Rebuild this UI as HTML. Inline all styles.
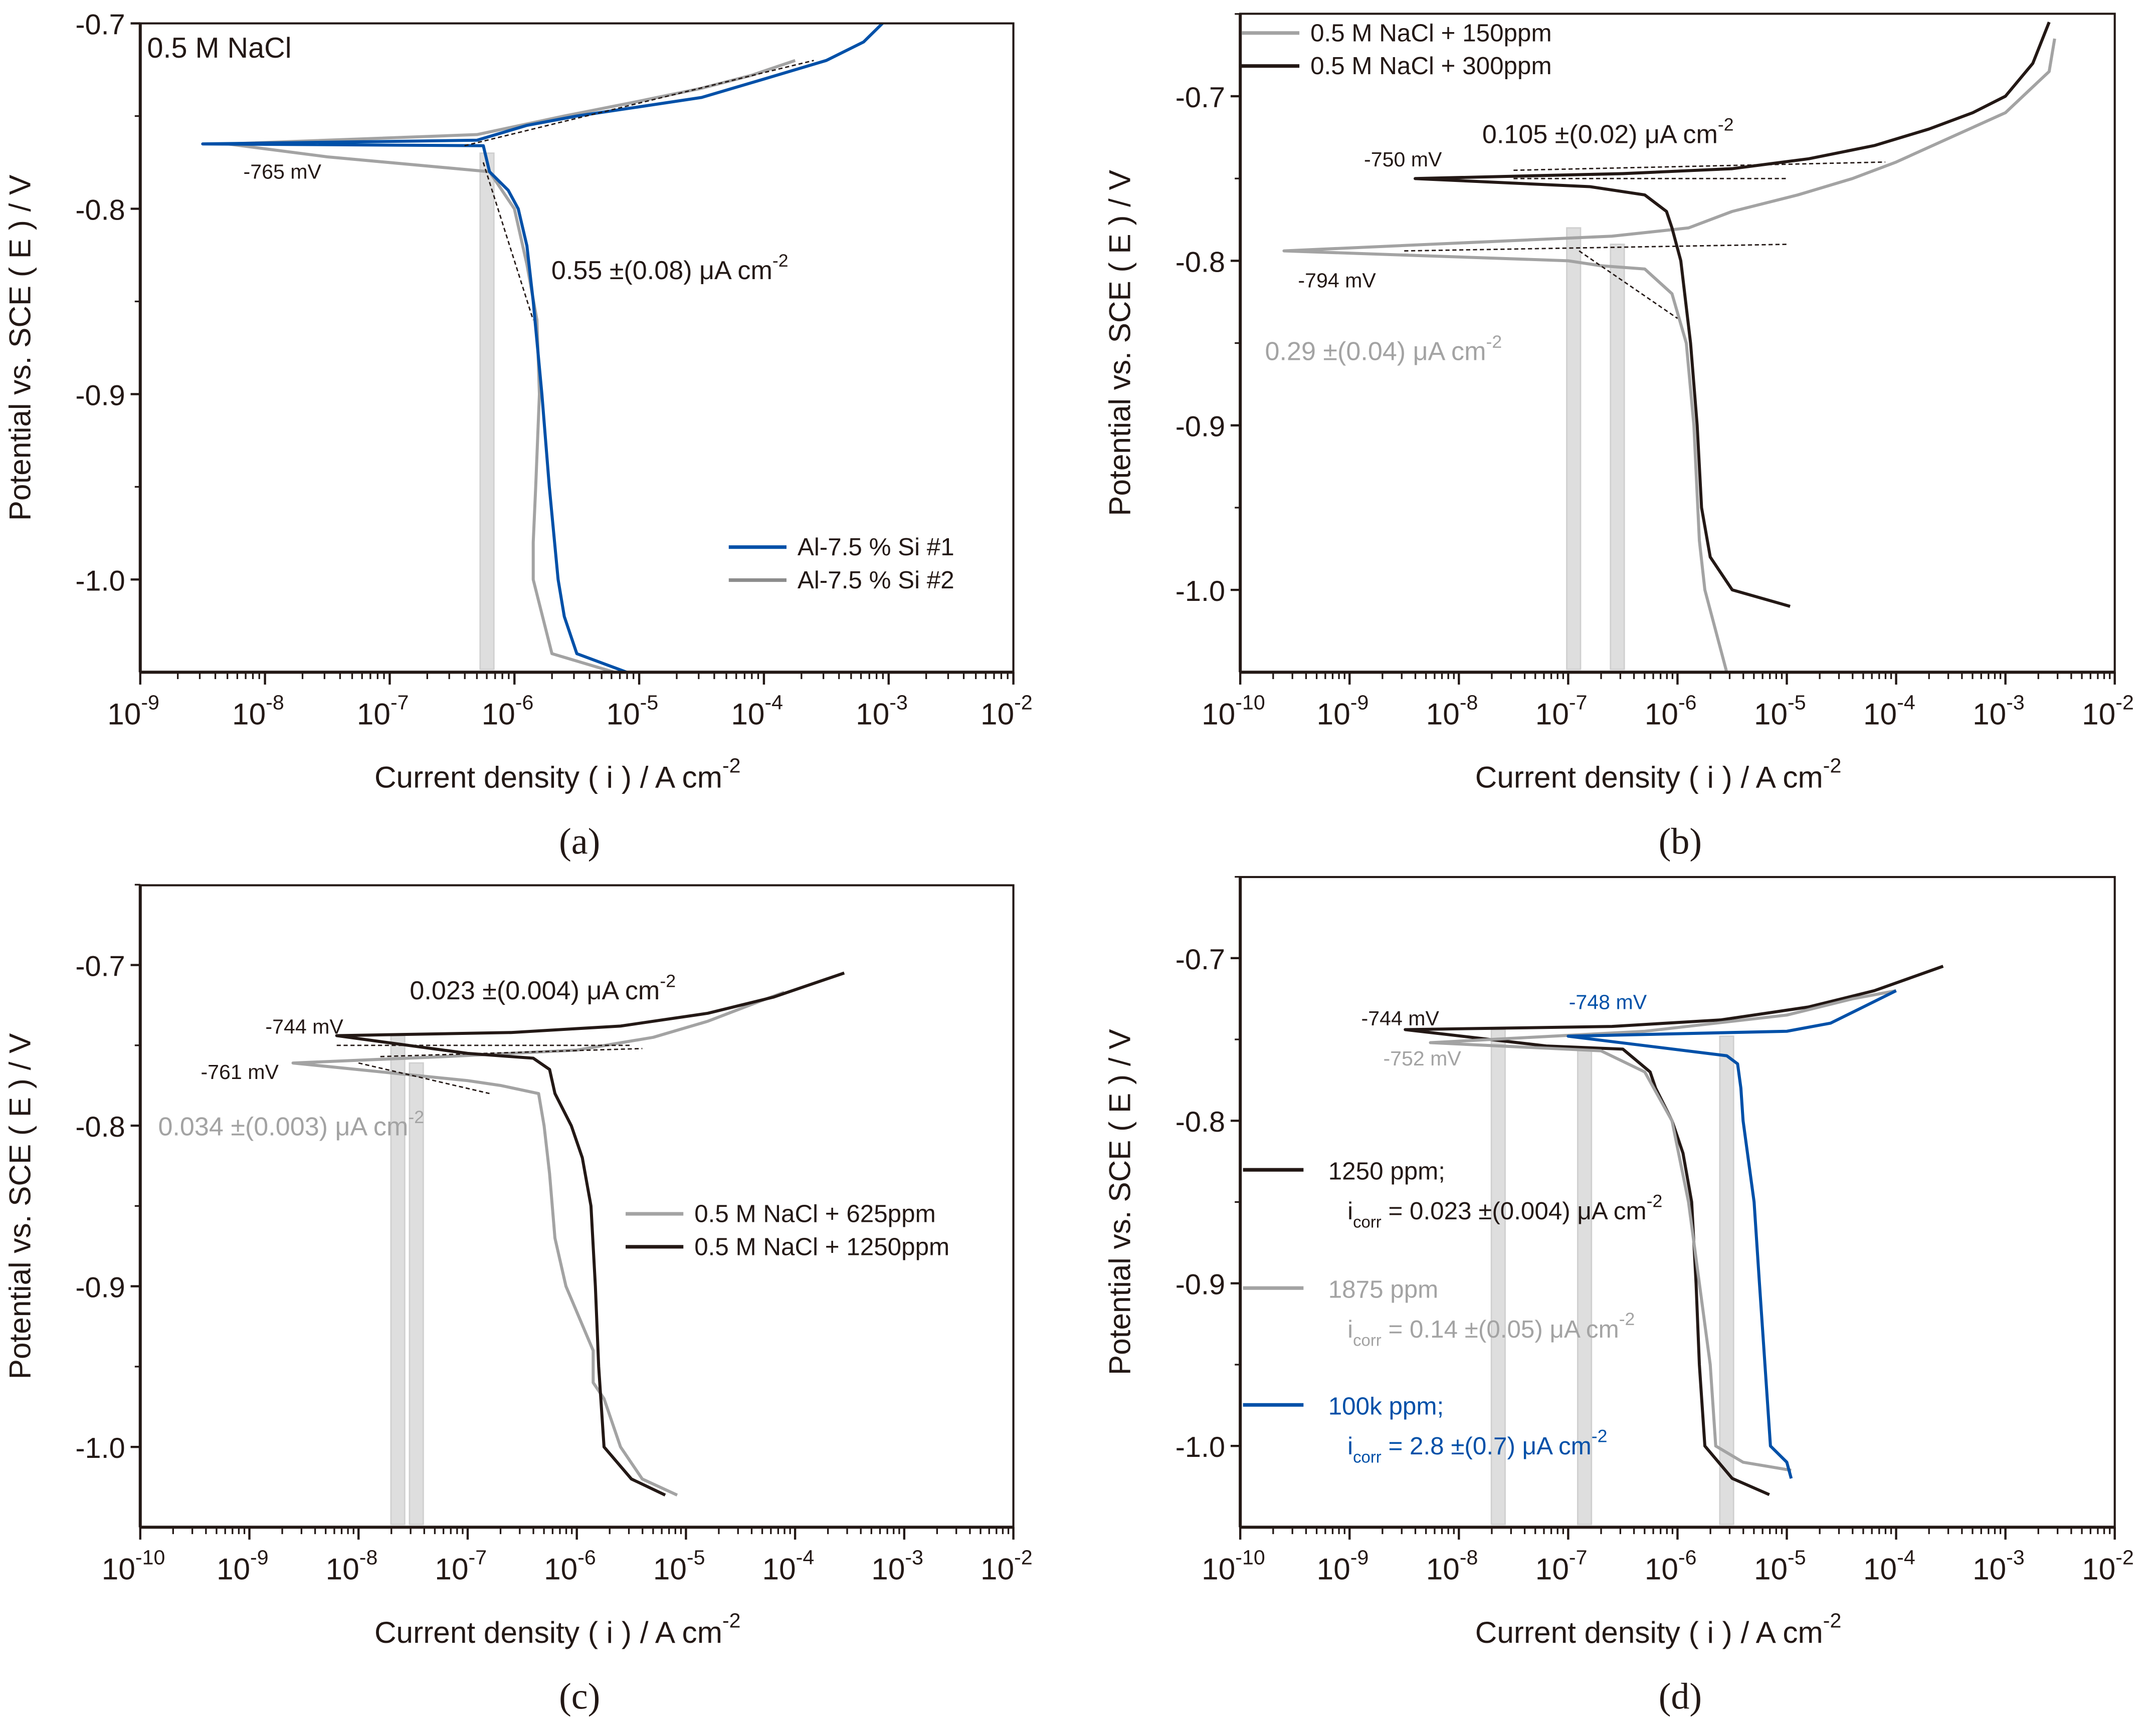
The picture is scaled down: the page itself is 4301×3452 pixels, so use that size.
<!DOCTYPE html>
<html><head><meta charset="utf-8"><style>
html,body{margin:0;padding:0;background:#fff}
svg{display:block}
text{font-family:"Liberation Sans",sans-serif;fill:#231815}
</style></head><body>
<svg id="fig" width="4301" height="3452" viewBox="0 0 1568 1258.5" preserveAspectRatio="none" xmlns="http://www.w3.org/2000/svg"></svg>
<script>
// ---- data: log10(i) and E (V) ----
const a1_logI=[-5.1,-5.5,-5.6,-5.65,-5.72,-5.78,-5.85,-5.9,-5.97,-6.05,-6.2,-6.25,-8.5,-6.3,-5.9,-5.5,-5.0,-4.5,-4.0,-3.5,-3.2,-3.05];
const a1_E=[-1.05,-1.04,-1.02,-1.0,-0.95,-0.9,-0.85,-0.82,-0.80,-0.79,-0.78,-0.766,-0.765,-0.763,-0.755,-0.75,-0.745,-0.74,-0.73,-0.72,-0.71,-0.70];
const a2_logI=[-5.2,-5.7,-5.85,-5.85,-5.83,-5.8,-5.82,-5.9,-6.0,-6.2,-7.5,-8.3,-6.3,-5.6,-5.0,-4.5,-4.1,-3.75];
const a2_E=[-1.05,-1.04,-1.0,-0.98,-0.95,-0.9,-0.86,-0.83,-0.8,-0.78,-0.772,-0.765,-0.76,-0.75,-0.742,-0.735,-0.728,-0.72];
const b1_logI=[-5.55,-5.75,-5.8,-5.85,-5.92,-6.05,-6.3,-6.7,-7.0,-9.6,-6.6,-5.9,-5.5,-4.9,-4.4,-4.0,-3.5,-3.0,-2.6,-2.55];
const b1_E=[-1.05,-1.0,-0.97,-0.9,-0.85,-0.82,-0.805,-0.803,-0.80,-0.794,-0.785,-0.78,-0.77,-0.76,-0.75,-0.74,-0.725,-0.71,-0.685,-0.665];
const b2_logI=[-4.97,-5.5,-5.7,-5.78,-5.82,-5.88,-5.97,-6.05,-6.1,-6.3,-6.8,-8.4,-6.5,-5.5,-4.8,-4.2,-3.7,-3.3,-3.0,-2.75,-2.6];
const b2_E=[-1.01,-1.0,-0.98,-0.95,-0.9,-0.85,-0.8,-0.78,-0.77,-0.76,-0.755,-0.75,-0.747,-0.744,-0.738,-0.73,-0.72,-0.71,-0.70,-0.68,-0.655];
const c1_logI=[-5.08,-5.4,-5.6,-5.75,-5.85,-5.85,-6.1,-6.2,-6.25,-6.3,-6.35,-6.7,-7.0,-8.6,-7.2,-6.0,-5.3,-4.8,-4.3,-4.1];
const c1_E=[-1.03,-1.02,-1.0,-0.97,-0.96,-0.94,-0.9,-0.87,-0.83,-0.80,-0.78,-0.775,-0.772,-0.761,-0.757,-0.753,-0.745,-0.735,-0.722,-0.717];
const c2_logI=[-5.19,-5.5,-5.75,-5.8,-5.83,-5.87,-5.95,-6.05,-6.2,-6.25,-6.4,-7.0,-8.2,-6.6,-5.6,-4.8,-4.2,-3.55];
const c2_E=[-1.03,-1.02,-1.0,-0.95,-0.9,-0.85,-0.82,-0.80,-0.78,-0.765,-0.758,-0.755,-0.744,-0.742,-0.738,-0.73,-0.72,-0.705];
const d1_logI=[-5.16,-5.5,-5.75,-5.8,-5.83,-5.87,-5.95,-6.05,-6.2,-6.25,-6.5,-7.2,-8.49,-6.6,-5.6,-4.8,-4.2,-3.57];
const d1_E=[-1.03,-1.02,-1.0,-0.95,-0.9,-0.85,-0.82,-0.80,-0.78,-0.77,-0.756,-0.754,-0.744,-0.742,-0.738,-0.73,-0.72,-0.705];
const d2_logI=[-4.96,-5.4,-5.65,-5.7,-5.8,-5.9,-6.05,-6.3,-6.7,-8.26,-6.3,-5.0,-4.4,-4.0];
const d2_E=[-1.015,-1.01,-1.0,-0.95,-0.9,-0.85,-0.8,-0.77,-0.757,-0.752,-0.745,-0.735,-0.725,-0.72];
const d3_logI=[-4.96,-5.0,-5.15,-5.2,-5.25,-5.3,-5.4,-5.42,-5.45,-5.55,-7.0,-5.0,-4.6,-4.3,-4.0];
const d3_E=[-1.02,-1.01,-1.0,-0.95,-0.9,-0.85,-0.8,-0.78,-0.765,-0.76,-0.748,-0.745,-0.74,-0.73,-0.72];
const yTicks=[-0.7,-0.8,-0.9,-1.0];
const yTickLabels=["-0.7","-0.8","-0.9","-1.0"];

const NS="http://www.w3.org/2000/svg";
const svg=document.getElementById('fig');
function mk(tag,attrs,parent){const e=document.createElementNS(NS,tag);for(const k in attrs)e.setAttribute(k,attrs[k]);(parent||svg).appendChild(e);return e;}
function txt(x,y,s,size,fill,anchor,name,parent){const t=mk('text',{x:x,y:y,'font-size':size,fill:fill||'#231815','text-anchor':anchor||'start'},parent);t.style.fill=fill||'#231815';t.textContent=s;


return t;}

function panel(cfg){
  const g=mk('g',{});
  
  
  const X=v=>cfg.x0+(v-cfg.lmin)/(cfg.lmax-cfg.lmin)*(cfg.x1-cfg.x0);
  const Y=v=>cfg.y0+(v-cfg.emax)/(cfg.emin-cfg.emax)*(cfg.y1-cfg.y0);
  cfg.X=X;cfg.Y=Y;cfg.g=g;
  cfg.bars.forEach((b,i)=>{const r=mk('rect',{x:X(b[0])-5,y:Y(b[1]),width:10,height:cfg.y1-Y(b[1])-2,fill:'#dedede',stroke:'#cfcfcf','stroke-width':1},g);
    
    });
  cfg.series.forEach(s=>{const pts=s.l.map((v,i)=>X(v).toFixed(1)+','+Y(s.e[i]).toFixed(1)).join(' ');
    const p=mk('polyline',{points:pts,fill:'none',stroke:s.c,'stroke-width':2.2,'stroke-linejoin':'round'},g);
    
    });
  const f=mk('rect',{x:cfg.x0,y:cfg.yt,width:cfg.x1-cfg.x0,height:cfg.y1-cfg.yt,fill:'none',stroke:'#231815','stroke-width':1.5},g);
  
  
  mk('line',{x1:cfg.x0,y1:cfg.y1,x2:cfg.x1,y2:cfg.y1,stroke:'#231815','stroke-width':2.2},g);
  mk('line',{x1:cfg.x0,y1:cfg.yt,x2:cfg.x0,y2:cfg.y1,stroke:'#231815','stroke-width':2.2},g);
  for(let d=cfg.lmin;d<=cfg.lmax;d++){
    mk('line',{x1:X(d),y1:cfg.y1,x2:X(d),y2:cfg.y1+9,stroke:'#231815','stroke-width':1.6},g);
    if(d<cfg.lmax)for(let m=2;m<10;m++){const xx=X(d+Math.log10(m));mk('line',{x1:xx,y1:cfg.y1,x2:xx,y2:cfg.y1+5,stroke:'#231815','stroke-width':1.2},g);}
    const t=txt(X(d)-5,cfg.y1+38,'10',22,'#231815','middle','x-tick-label',g);
    const sp=document.createElementNS(NS,'tspan');sp.setAttribute('dy','-11');sp.setAttribute('font-size','15');sp.textContent=String(d);t.appendChild(sp);
  }
  yTicks.forEach((v,i)=>{mk('line',{x1:cfg.x0-7,y1:Y(v),x2:cfg.x0,y2:Y(v),stroke:'#231815','stroke-width':1.6},g);
    txt(cfg.x0-11,Y(v)+8,yTickLabels[i],21,'#231815','end','y-tick-label',g);
    const mv=v-0.05; if(Y(mv)<cfg.y1) mk('line',{x1:cfg.x0-4,y1:Y(mv),x2:cfg.x0,y2:Y(mv),stroke:'#231815','stroke-width':1.2},g);});
  if(Y(-0.65)>cfg.yt-1) mk('line',{x1:cfg.x0-4,y1:Y(-0.65),x2:cfg.x0,y2:Y(-0.65),stroke:'#231815','stroke-width':1.2},g);
  const xt=txt((cfg.x0+cfg.x1)/2-14,cfg.y1+84,'Current density ( i ) / A cm',22,'#231815','middle','x-axis-title',g);
  const sp=document.createElementNS(NS,'tspan');sp.setAttribute('dy','-11');sp.setAttribute('font-size','15');sp.textContent='-2';xt.appendChild(sp);
  const yx=cfg.x0-80, yy=(cfg.yt+cfg.y1)/2;
  const yt=txt(yx,yy,'Potential vs. SCE ( E ) / V',22,'#231815','middle','y-axis-title',g);
  yt.setAttribute('transform','rotate(-90 '+yx+' '+yy+')');
  const pl=txt((cfg.x0+cfg.x1)/2+2,cfg.y1+132,cfg.label,27,'#231815','middle','panel-label',g);
  pl.style.fontFamily='"Liberation Serif",serif';
  return cfg;
}
function sup(t,s){const sp=document.createElementNS(NS,'tspan');sp.setAttribute('dy','-9');sp.setAttribute('font-size','13');sp.textContent=s;t.appendChild(sp);}
function legend(g,x,y,c,s,name){const l=mk('line',{x1:x,y1:y,x2:x+42,y2:y,stroke:c,'stroke-width':2.6},g);
 
 
 txt(x+50,y+6,s,18,'#231815','start','legend-label',g);}
function dash(cfg,l1,e1,l2,e2){mk('line',{x1:cfg.X(l1),y1:cfg.Y(e1),x2:cfg.X(l2),y2:cfg.Y(e2),stroke:'#231815','stroke-width':1,'stroke-dasharray':'3,2'},cfg.g);}

const BL='#231815',GR='#a3a3a3',BU='#0050a8';
// (a)
const A=panel({name:'panel-a',label:'(a)',x0:102,x1:737,lmin:-9,lmax:-2,yt:17,y0:17,emax:-0.7,y1:489,emin:-1.05,
 bars:[[-6.22,-0.77]],
 series:[{l:a2_logI,e:a2_E,c:GR,name:'series-si-2'},{l:a1_logI,e:a1_E,c:BU,name:'series-si-1'}]});
dash(A,-6.25,-0.775,-5.85,-0.86);dash(A,-6.4,-0.766,-3.6,-0.72);
txt(107,42,'0.5 M NaCl',21,'#231815','start','condition-label',A.g);
txt(177,130,'-765 mV',15,'#231815','start','ecorr-label',A.g);
sup(txt(401,203,'0.55 ±(0.08) μA cm',19,'#231815','start','icorr-label',A.g),'-2');
legend(A.g,530,398,BU,'Al-7.5 % Si  #1','legend-line-1');
legend(A.g,530,422,'#8c8c8c','Al-7.5 % Si  #2','legend-line-2');
// (b)
const B=panel({name:'panel-b',label:'(b)',x0:902,x1:1538,lmin:-10,lmax:-2,yt:10,y0:70,emax:-0.7,y1:489,emin:-1.05,
 bars:[[-6.95,-0.78],[-6.55,-0.79]],
 series:[{l:b1_logI,e:b1_E,c:GR,name:'series-150ppm'},{l:b2_logI,e:b2_E,c:BL,name:'series-300ppm'}]});
dash(B,-8.5,-0.794,-5.0,-0.79);dash(B,-6.9,-0.794,-6.0,-0.835);dash(B,-7.5,-0.75,-5.0,-0.75);dash(B,-7.5,-0.745,-4.1,-0.74);
legend(B.g,903,24,GR,'0.5 M NaCl + 150ppm','legend-150ppm');
legend(B.g,903,48,BL,'0.5 M NaCl + 300ppm','legend-300ppm');
txt(992,121,'-750 mV',15,'#231815','start','ecorr-label',B.g);
txt(944,209,'-794 mV',15,'#231815','start','ecorr-label',B.g);
sup(txt(1078,104,'0.105 ±(0.02) μA cm',19,'#231815','start','icorr-label',B.g),'-2');
sup(txt(920,262,'0.29 ±(0.04) μA cm',19,GR,'start','icorr-label',B.g),'-2');
// (c)
const C=panel({name:'panel-c',label:'(c)',x0:102,x1:737,lmin:-10,lmax:-2,yt:644,y0:702,emax:-0.7,y1:1111,emin:-1.05,
 bars:[[-7.64,-0.744],[-7.47,-0.761]],
 series:[{l:c1_logI,e:c1_E,c:GR,name:'series-625ppm'},{l:c2_logI,e:c2_E,c:BL,name:'series-1250ppm'}]});
dash(C,-8.2,-0.75,-5.5,-0.75);dash(C,-8.0,-0.761,-6.8,-0.78);dash(C,-7.8,-0.757,-5.4,-0.752);
txt(193,752,'-744 mV',15,'#231815','start','ecorr-label',C.g);
txt(146,785,'-761 mV',15,'#231815','start','ecorr-label',C.g);
sup(txt(298,727,'0.023 ±(0.004) μA cm',19,'#231815','start','icorr-label',C.g),'-2');
sup(txt(115,826,'0.034 ±(0.003) μA cm',19,GR,'start','icorr-label',C.g),'-2');
legend(C.g,455,883,GR,'0.5 M NaCl + 625ppm','legend-625ppm');
legend(C.g,455,907,BL,'0.5 M NaCl + 1250ppm','legend-1250ppm');
// (d)
const D=panel({name:'panel-d',label:'(d)',x0:902,x1:1538,lmin:-10,lmax:-2,yt:638,y0:697,emax:-0.7,y1:1111,emin:-1.05,
 bars:[[-7.64,-0.744],[-6.85,-0.755],[-5.55,-0.748]],
 series:[{l:d1_logI,e:d1_E,c:BL,name:'series-1250ppm'},{l:d2_logI,e:d2_E,c:GR,name:'series-1875ppm'},{l:d3_logI,e:d3_E,c:BU,name:'series-100k-ppm'}]});
txt(990,746,'-744 mV',15,'#231815','start','ecorr-label',D.g);
txt(1006,775,'-752 mV',15,GR,'start','ecorr-label',D.g);
txt(1141,734,'-748 mV',15,BU,'start','ecorr-label',D.g);
function dleg(y,c,s1,s2,tail,name){const l=mk('line',{x1:904,y1:y,x2:948,y2:y,stroke:c,'stroke-width':2.6},D.g);
 
 
 txt(966,y+7,s1,18,c,'start','legend-label',D.g);
 const t=txt(980,y+36,'i',18,c,'start','legend-icorr',D.g);
 const sb=document.createElementNS(NS,'tspan');sb.setAttribute('dy','6');sb.setAttribute('font-size','12');sb.textContent='corr';t.appendChild(sb);
 const m=document.createElementNS(NS,'tspan');m.setAttribute('dy','-6');m.textContent=s2;t.appendChild(m);
 sup(t,tail);}
dleg(851,BL,'1250 ppm;',' = 0.023 ±(0.004) μA cm','-2','legend-1250ppm');
dleg(937,GR,'1875 ppm',' = 0.14 ±(0.05) μA cm','-2','legend-1875ppm');
dleg(1022,BU,'100k ppm;',' = 2.8 ±(0.7) μA cm','-2','legend-100k-ppm');
</script>
</body></html>
